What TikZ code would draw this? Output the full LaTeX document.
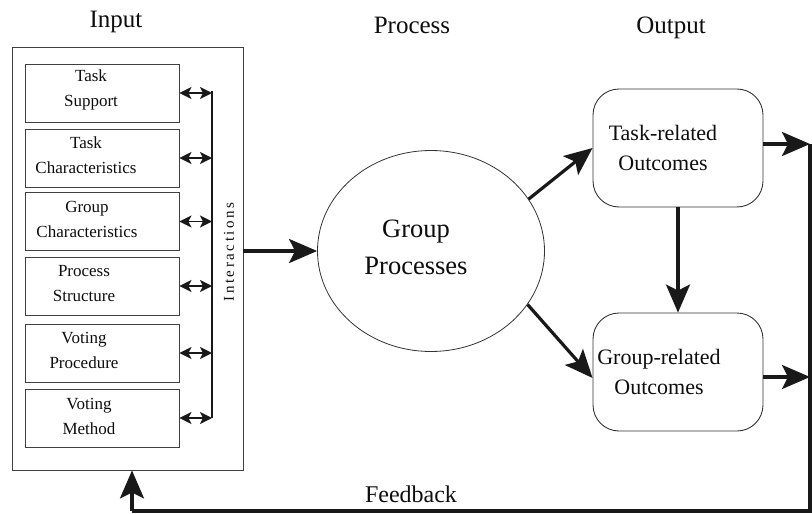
\documentclass[tikz,border=0pt]{standalone}
\usepackage{fontspec}
\setmainfont{Liberation Serif}
\usetikzlibrary{arrows.meta,shapes.geometric}
\begin{document}
\begin{tikzpicture}[x=1pt,y=-1pt,
  title/.style={font=\fontsize{25}{27}\selectfont,text=black!95},
  inbox/.style={draw=black!75,line width=0.9pt,minimum width=154pt,minimum height=58pt},
  intext/.style={font=\fontsize{17}{25}\selectfont,align=center,text=black!95},
  outbox/.style={draw=black!80,line width=0.9pt,rounded corners=26pt,minimum width=170pt,minimum height=118pt},
  outtext/.style={font=\fontsize{22}{30}\selectfont,align=center,text=black!95},
  dbl/.style={line width=1.9pt,draw=black!90,{Stealth[length=12pt,width=12pt,inset=3pt]}-{Stealth[length=12pt,width=12pt,inset=3pt]}},
  big/.style={line width=3.2pt,draw=black!90,-{Stealth[length=28pt,width=24pt,inset=6pt]}},
  thickline/.style={line width=3.2pt,draw=black!90}]
\useasboundingbox (0,0) rectangle (812,514);
% titles
\node[title] (tin) at (116,22) {Input};
\node[title] (tpr) at (412,25) {Process};
\node[title] (tout) at (671,28) {Output};
% input frame
\node[draw=black!75,line width=0.9pt,minimum width=231pt,minimum height=423pt] (frame) at (127.5,258.5) {};
% inner boxes
\node[inbox] (b1) at (102,93) {};
\node[inbox] (b2) at (102,158) {};
\node[inbox] (b3) at (102,221.5) {};
\node[inbox] (b4) at (102,286) {};
\node[inbox] (b5) at (102,353) {};
\node[inbox] (b6) at (102,418) {};
\node[intext] (t1) at (91,90) {Task\\Support};
\node[intext] (t2) at (86,155) {Task\\Characteristics};
\node[intext] (t3) at (87,219) {Group\\Characteristics};
\node[intext] (t4) at (84,284) {Process\\Structure};
\node[intext] (t5) at (84,350) {Voting\\Procedure};
\node[intext] (t6) at (89,416) {Voting\\Method};
% bus
\coordinate (bustop) at (212,91);
\coordinate (busbot) at (212,418);
\draw[line width=2pt,black!90] (bustop) -- (busbot);
\foreach \b in {b1,b2,b3,b4,b5,b6}{
  \draw[dbl] (\b.east) -- (\b.east -| bustop);
}
\node[rotate=90,text=black!95,font=\fontsize{15}{16}\selectfont\addfontfeatures{LetterSpace=17}] (inter) at (229,252) {Interactions};
% process
\node[draw=black!80,line width=0.8pt,ellipse,minimum width=227pt,minimum height=201pt] (gp) at (431,251) {};
\node[font=\fontsize{26.5}{37}\selectfont,align=center,text=black!95] (gpt) at (416,247) {Group\\Processes};
\draw[big] (gp.west -| frame.east) -- (gp.west);
% outputs
\node[outbox] (tr) at (678,148) {};
\node[outbox] (gr) at (678,372) {};
\node[outtext] (trt) at (663,148) {Task-related\\Outcomes};
\node[outtext] (grt) at (659,372) {Group-related\\Outcomes};
\draw[big] (gp.28) -- (tr.west);
\draw[big] (gp.-29) -- ([yshift=-6pt]gr.west);
\draw[big] (tr.south) -- (gr.north);
% right bus and feedback
\coordinate (rtop) at (810,144);
\coordinate (rbot) at (810,511);
\coordinate (fbl) at (132,511);
\draw[big] (tr.east |- rtop) -- (rtop);
\draw[big] (gr.east |- 0,377) -- (810,377);
\draw[thickline] (rtop) -- (rbot) -- (fbl);
\draw[big] (fbl) -- (fbl |- frame.south);
\node[font=\fontsize{24}{26}\selectfont,text=black!95] (fb) at (411,494) {Feedback};
\end{tikzpicture}
\end{document}
